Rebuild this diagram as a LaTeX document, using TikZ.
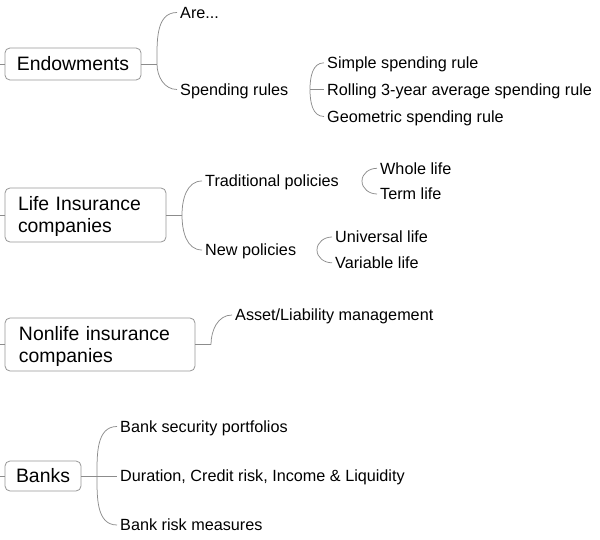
\documentclass[tikz,border=0pt]{standalone}
\usepackage{fontspec}
\setmainfont{Liberation Sans}
\usetikzlibrary{calc}
\definecolor{linegray}{RGB}{140,140,140}
\definecolor{boxgray}{RGB}{150,150,150}
\tikzset{
  conn/.style={draw=linegray, line width=0.75pt},
  topic/.style={draw=boxgray, line width=0.8pt, rounded corners=5pt, inner ysep=0pt, font=\fontsize{19.4}{22}\selectfont},
  leaf/.style={anchor=west, inner xsep=3pt, inner ysep=0pt, text height=11.5pt, text depth=0pt, font=\fontsize{16.2}{19}\selectfont},
}
\begin{document}
\begin{tikzpicture}[x=1pt,y=-1pt]
\useasboundingbox (0,0) rectangle (600,540);

% ---- Endowments
\node[topic, minimum width=136pt, minimum height=32pt, inner xsep=12pt] (endow) at (73,64) {Endowments};
\node[leaf] (are) at (177,12.5) {Are...};
\node[leaf] (sr) at (177,89.5) {Spending rules};
\node[leaf] (simple) at (324,62.8) {Simple spending rule};
\node[leaf] (rolling) at (324,89.5) {Rolling 3-year average spending rule};
\node[leaf] (geo) at (324,116.5) {Geometric spending rule};
\coordinate (e0) at (0,64);
\coordinate (ej) at (157,64);
\coordinate (sj) at (310,89.5);
\draw[conn] (e0) -- (endow.west);
\draw[conn] (endow.east) -- (ej);
\draw[conn] (ej) to[out=90,in=180] (are.west);
\draw[conn] (ej) to[out=-90,in=180] (sr.west);
\draw[conn] (sj) to[out=90,in=180] (simple.west);
\draw[conn] (sj) -- (rolling.west);
\draw[conn] (sj) to[out=-90,in=180] (geo.west);

% ---- Life insurance
\node[topic, minimum height=54pt, inner xsep=13pt, text width=135pt, align=left, text height=14pt, text depth=22pt] (life) at (85.5,215) {Life Insurance\\companies};
\node[leaf] (trad) at (202,181) {Traditional policies};
\node[leaf] (newp) at (202,250) {New policies};
\node[leaf] (whole) at (377,168.3) {Whole life};
\node[leaf] (term) at (377,194) {Term life};
\node[leaf] (univ) at (332,237) {Universal life};
\node[leaf] (var) at (332,262.8) {Variable life};
\coordinate (l0) at (0,215);
\coordinate (lj) at (182,215);
\coordinate (tj) at (362,181);
\coordinate (nj) at (317,250);
\draw[conn] (l0) -- (life.west);
\draw[conn] (life.east) -- (lj);
\draw[conn] (lj) to[out=90,in=180] (trad.west);
\draw[conn] (lj) to[out=-90,in=180] (newp.west);
\draw[conn] (tj) to[out=90,in=180] (whole.west);
\draw[conn] (tj) to[out=-90,in=180] (term.west);
\draw[conn] (nj) to[out=90,in=180] (univ.west);
\draw[conn] (nj) to[out=-90,in=180] (var.west);

% ---- Nonlife insurance
\node[topic, minimum height=53pt, inner xsep=14pt, text width=162pt, align=left, text height=14pt, text depth=22pt] (nonlife) at (100,344.5) {Nonlife insurance\\companies};
\node[leaf] (alm) at (232,315) {Asset/Liability management};
\coordinate (n0) at (0,344.5);
\coordinate (nlj) at (211,344.5);
\draw[conn] (n0) -- (nonlife.west);
\draw[conn] (nonlife.east) -- (nlj);
\draw[conn] (nlj) to[out=90,in=180] (alm.west);

% ---- Banks
\node[topic, minimum width=76pt, minimum height=30pt, inner xsep=11pt] (banks) at (43,476) {Banks};
\node[leaf] (bsp) at (117,426.5) {Bank security portfolios};
\node[leaf] (dur) at (117,476) {Duration, Credit risk, Income \& Liquidity};
\node[leaf] (brm) at (117,525) {Bank risk measures};
\coordinate (b0) at (0,476);
\coordinate (bj) at (97,476);
\draw[conn] (b0) -- (banks.west);
\draw[conn] (banks.east) -- (bj);
\draw[conn] (bj) to[out=90,in=180] (bsp.west);
\draw[conn] (bj) -- (dur.west);
\draw[conn] (bj) to[out=-90,in=180] (brm.west);
\end{tikzpicture}
\end{document}
